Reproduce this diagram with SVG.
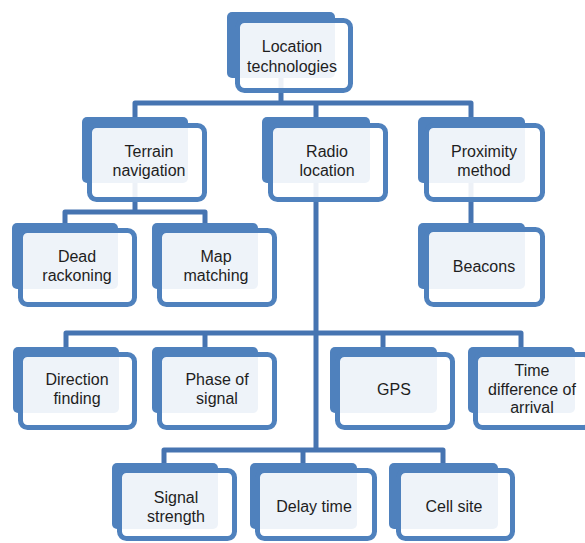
<svg xmlns="http://www.w3.org/2000/svg" width="585" height="543" viewBox="0 0 585 543">
<style>
.back{fill:#4F81BD}
.front{fill:#ffffff;fill-opacity:0.9;stroke:#4F81BD;stroke-width:5}
.lbl{font-family:"Liberation Sans",Arial,sans-serif;font-size:16px;fill:#1e1e1e;text-anchor:middle}
.cn{fill:none;stroke:#4674B1;stroke-width:5;stroke-linejoin:round}
</style>
<rect width="585" height="543" fill="#ffffff"/>
<g id="connectors">
<path class="cn" d="M281,78 V103" stroke-width="6"/>
<path class="cn" d="M135,117 V103 H471 V117" stroke-width="6"/>
<path class="cn" d="M316,103 V117" stroke-width="6"/>
<path class="cn" d="M135,183 V212"/>
<path class="cn" d="M65,223 V212 H205 V223"/>
<path class="cn" d="M471,183 V223" stroke-width="7"/>
<path class="cn" d="M316,183 V450" stroke-width="7"/>
<path class="cn" d="M66,347 V333 H521 V347"/>
<path class="cn" d="M205,333 V347"/>
<path class="cn" d="M383,333 V347"/>
<path class="cn" d="M164,463 V450 H443 V463"/>
<path class="cn" d="M303,450 V463"/>
</g>
<g id="n-location">
<rect class="back" x="227" y="12" width="108" height="66" rx="5"/>
<rect class="front" x="237.5" y="20.5" width="113" height="70" rx="7"/>
<text class="lbl" x="292" y="52">Location</text>
<text class="lbl" x="292" y="72">technologies</text>
</g>
<g id="n-terrain">
<rect class="back" x="82" y="117" width="106" height="66" rx="5"/>
<rect class="front" x="89.5" y="125.5" width="115" height="74" rx="7"/>
<text class="lbl" x="149" y="157">Terrain</text>
<text class="lbl" x="149" y="176">navigation</text>
</g>
<g id="n-radio">
<rect class="back" x="262" y="117" width="108" height="66" rx="5"/>
<rect class="front" x="270.5" y="125.5" width="115" height="74" rx="7"/>
<text class="lbl" x="327" y="157">Radio</text>
<text class="lbl" x="327" y="176">location</text>
</g>
<g id="n-proximity">
<rect class="back" x="418" y="117" width="107" height="66" rx="5"/>
<rect class="front" x="426.5" y="125.5" width="116" height="74" rx="7"/>
<text class="lbl" x="484" y="157">Proximity</text>
<text class="lbl" x="484" y="176">method</text>
</g>
<g id="n-dead">
<rect class="back" x="12" y="223" width="106" height="66" rx="5"/>
<rect class="front" x="20.5" y="230.5" width="114" height="74" rx="7"/>
<text class="lbl" x="77" y="262">Dead</text>
<text class="lbl" x="77" y="281">rackoning</text>
</g>
<g id="n-map">
<rect class="back" x="152" y="223" width="106" height="66" rx="5"/>
<rect class="front" x="159.5" y="230.5" width="115" height="74" rx="7"/>
<text class="lbl" x="216" y="262">Map</text>
<text class="lbl" x="216" y="281">matching</text>
</g>
<g id="n-beacons">
<rect class="back" x="418" y="223" width="107" height="66" rx="5"/>
<rect class="front" x="426.5" y="229.5" width="116" height="75" rx="7"/>
<text class="lbl" x="484" y="272">Beacons</text>
</g>
<g id="n-direction">
<rect class="back" x="13" y="347" width="106" height="66" rx="5"/>
<rect class="front" x="20.5" y="354.5" width="114" height="73" rx="7"/>
<text class="lbl" x="77" y="385">Direction</text>
<text class="lbl" x="77" y="404">finding</text>
</g>
<g id="n-phase">
<rect class="back" x="152" y="347" width="106" height="66" rx="5"/>
<rect class="front" x="159.5" y="354.5" width="115" height="73" rx="7"/>
<text class="lbl" x="217" y="385">Phase of</text>
<text class="lbl" x="217" y="404">signal</text>
</g>
<g id="n-gps">
<rect class="back" x="330" y="347" width="107" height="66" rx="5"/>
<rect class="front" x="337.5" y="354.5" width="115" height="73" rx="7"/>
<text class="lbl" x="394" y="395">GPS</text>
</g>
<g id="n-time">
<rect class="back" x="468" y="347" width="107" height="66" rx="5"/>
<rect class="front" x="475.5" y="354.5" width="115" height="73" rx="7"/>
<text class="lbl" x="532" y="376">Time</text>
<text class="lbl" x="532" y="395">difference of</text>
<text class="lbl" x="532" y="413">arrival</text>
</g>
<g id="n-signal">
<rect class="back" x="112" y="463" width="106" height="66" rx="5"/>
<rect class="front" x="119.5" y="470.5" width="115" height="68" rx="7"/>
<text class="lbl" x="176" y="503">Signal</text>
<text class="lbl" x="176" y="522">strength</text>
</g>
<g id="n-delay">
<rect class="back" x="250" y="463" width="107" height="66" rx="5"/>
<rect class="front" x="257.5" y="470.5" width="117" height="68" rx="7"/>
<text class="lbl" x="314" y="512">Delay time</text>
</g>
<g id="n-cell">
<rect class="back" x="389" y="463" width="109" height="66" rx="5"/>
<rect class="front" x="398.5" y="470.5" width="114" height="68" rx="7"/>
<text class="lbl" x="454" y="512">Cell site</text>
</g>
</svg>
